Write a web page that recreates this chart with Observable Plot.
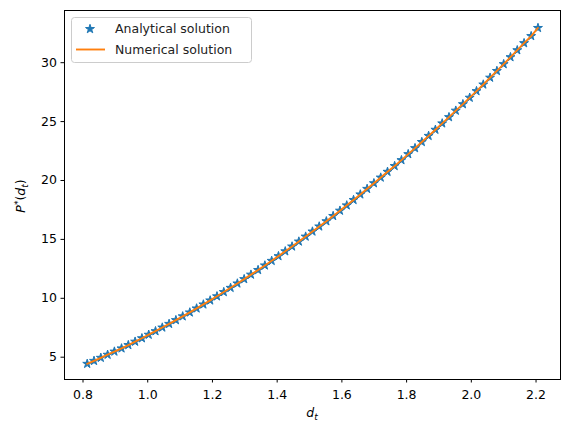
<!DOCTYPE html>
<html>
<head>
<meta charset="utf-8">
<script src="https://cdn.jsdelivr.net/npm/d3@7"></script>
<script src="https://cdn.jsdelivr.net/npm/@observablehq/plot@0.6"></script>
<style>
  html, body { margin: 0; padding: 0; background: #fff; }
  #wrap { position: relative; width: 570px; height: 436px; font-family: "DejaVu Sans", sans-serif; }
  #legend { position: absolute; left: 71px; top: 17px; }
</style>
</head>
<body>
<div id="wrap"></div>
<script>
// d_t values (x)
const dt = [0.813, 0.834, 0.855, 0.876, 0.897, 0.919, 0.940, 0.961, 0.982, 1.003,
  1.024, 1.045, 1.066, 1.087, 1.108, 1.130, 1.151, 1.172, 1.193, 1.214,
  1.235, 1.256, 1.277, 1.298, 1.319, 1.341, 1.362, 1.383, 1.404, 1.425,
  1.446, 1.467, 1.488, 1.509, 1.530, 1.552, 1.573, 1.594, 1.615, 1.636,
  1.657, 1.678, 1.699, 1.720, 1.741, 1.763, 1.784, 1.805, 1.826, 1.847,
  1.868, 1.889, 1.910, 1.931, 1.952, 1.974, 1.995, 2.016, 2.037, 2.058,
  2.079, 2.100, 2.121, 2.142, 2.163, 2.185, 2.206];
// Analytical solution P*(d_t)
const analytical = [4.44, 4.69, 4.95, 5.21, 5.48, 5.75, 6.03, 6.32, 6.61, 6.91,
  7.21, 7.52, 7.83, 8.15, 8.47, 8.80, 9.14, 9.48, 9.82, 10.17,
  10.53, 10.89, 11.26, 11.63, 12.01, 12.40, 12.79, 13.18, 13.58, 13.99,
  14.40, 14.82, 15.24, 15.67, 16.10, 16.54, 16.99, 17.44, 17.89, 18.35,
  18.82, 19.29, 19.77, 20.25, 20.74, 21.23, 21.73, 22.24, 22.75, 23.27,
  23.79, 24.31, 24.85, 25.38, 25.93, 26.48, 27.03, 27.59, 28.15, 28.73,
  29.30, 29.88, 30.47, 31.06, 31.66, 32.26, 32.95];
// Numerical solution P*(d_t)
const numerical = [4.44, 4.69, 4.95, 5.21, 5.48, 5.75, 6.03, 6.32, 6.61, 6.91,
  7.21, 7.52, 7.83, 8.15, 8.47, 8.80, 9.14, 9.48, 9.82, 10.17,
  10.53, 10.89, 11.26, 11.63, 12.01, 12.40, 12.79, 13.18, 13.58, 13.99,
  14.40, 14.82, 15.24, 15.67, 16.10, 16.54, 16.99, 17.44, 17.89, 18.35,
  18.82, 19.29, 19.77, 20.25, 20.74, 21.23, 21.73, 22.24, 22.75, 23.27,
  23.79, 24.31, 24.85, 25.38, 25.93, 26.48, 27.03, 27.59, 28.15, 28.73,
  29.30, 29.88, 30.47, 31.06, 31.66, 32.26, 32.95];
const xTicks = [0.8, 1.0, 1.2, 1.4, 1.6, 1.8, 2.0, 2.2];
const yTicks = [5, 10, 15, 20, 25, 30];
const seriesNames = ["Analytical solution", "Numerical solution"];
const colors = ["#1f77b4", "#ff7f0e"];

const dataA = dt.map((x, i) => ({x, y: analytical[i]}));
const dataN = dt.map((x, i) => ({x, y: numerical[i]}));

const FS = 12.5;
const svg = Plot.plot({
  width: 570,
  height: 436,
  marginLeft: 64,
  marginRight: 10,
  marginTop: 10,
  marginBottom: 57,
  style: {fontFamily: "DejaVu Sans", fontSize: FS + "px", color: "black", background: "white"},
  x: {domain: [0.7428, 2.2756]},
  y: {domain: [3.107, 34.43]},
  marks: [
    Plot.axisX({ticks: xTicks, tickFormat: d3.format(".1f"), tickSize: 3.5, tickPadding: 7.5, label: null, fontSize: FS}),
    Plot.axisY({ticks: yTicks, tickFormat: d3.format("d"), tickSize: 3.5, tickPadding: 4, label: null, fontSize: FS}),
    Plot.dot(dataA, {x: "x", y: "y", symbol: "star", fill: colors[0], stroke: colors[0], strokeWidth: 1, r: 2.8}),
    Plot.line(dataN, {x: "x", y: "y", stroke: colors[1], strokeWidth: 1.9}),
    Plot.frame({stroke: "black", strokeWidth: 1})
  ]
});

const s = d3.select(svg);
// x label d_t
const xl = s.append("text").attr("x", 312).attr("y", 417).attr("text-anchor", "middle")
  .attr("font-size", FS).attr("fill", "black").attr("font-family", "DejaVu Sans");
xl.append("tspan").attr("font-style", "italic").text("d");
xl.append("tspan").attr("font-style", "italic").attr("font-size", 9).attr("dy", 2.5).text("t");
// y label P*(d_t)
const yl = s.append("text").attr("transform", "translate(25,196) rotate(-90)").attr("text-anchor", "middle")
  .attr("font-size", FS).attr("fill", "black").attr("font-family", "DejaVu Sans");
yl.append("tspan").attr("font-style", "italic").text("P");
yl.append("tspan").attr("font-size", 9).attr("dy", -4.5).text("*");
yl.append("tspan").attr("dy", 4.5).text("(");
yl.append("tspan").attr("font-style", "italic").text("d");
yl.append("tspan").attr("font-style", "italic").attr("font-size", 9).attr("dy", 2.5).text("t");
yl.append("tspan").attr("dy", -2.5).text(")");

const wrap = document.getElementById("wrap");
wrap.appendChild(svg);

// Legend
const leg = d3.select(wrap).append("svg").attr("id", "legend").attr("width", 182).attr("height", 48);
leg.append("rect").attr("x", 0.5).attr("y", 0.5).attr("width", 180).attr("height", 45).attr("rx", 3)
  .attr("fill", "rgba(255,255,255,0.8)").attr("stroke", "#cccccc");
leg.append("path").attr("d", d3.symbol(d3.symbolStar, Math.PI * 2.8 * 2.8)())
  .attr("transform", "translate(19,12)").attr("fill", colors[0]).attr("stroke", colors[0]).attr("stroke-width", 1);
leg.append("line").attr("x1", 5).attr("x2", 34).attr("y1", 32.5).attr("y2", 32.5)
  .attr("stroke", colors[1]).attr("stroke-width", 1.9);
leg.selectAll("text.lab").data(seriesNames).join("text")
  .attr("x", 44).attr("y", (d, i) => 16 + i * 20.5)
  .attr("font-size", FS).attr("font-family", "DejaVu Sans").attr("fill", "#222")
  .text(d => d);
</script>
</body>
</html>
